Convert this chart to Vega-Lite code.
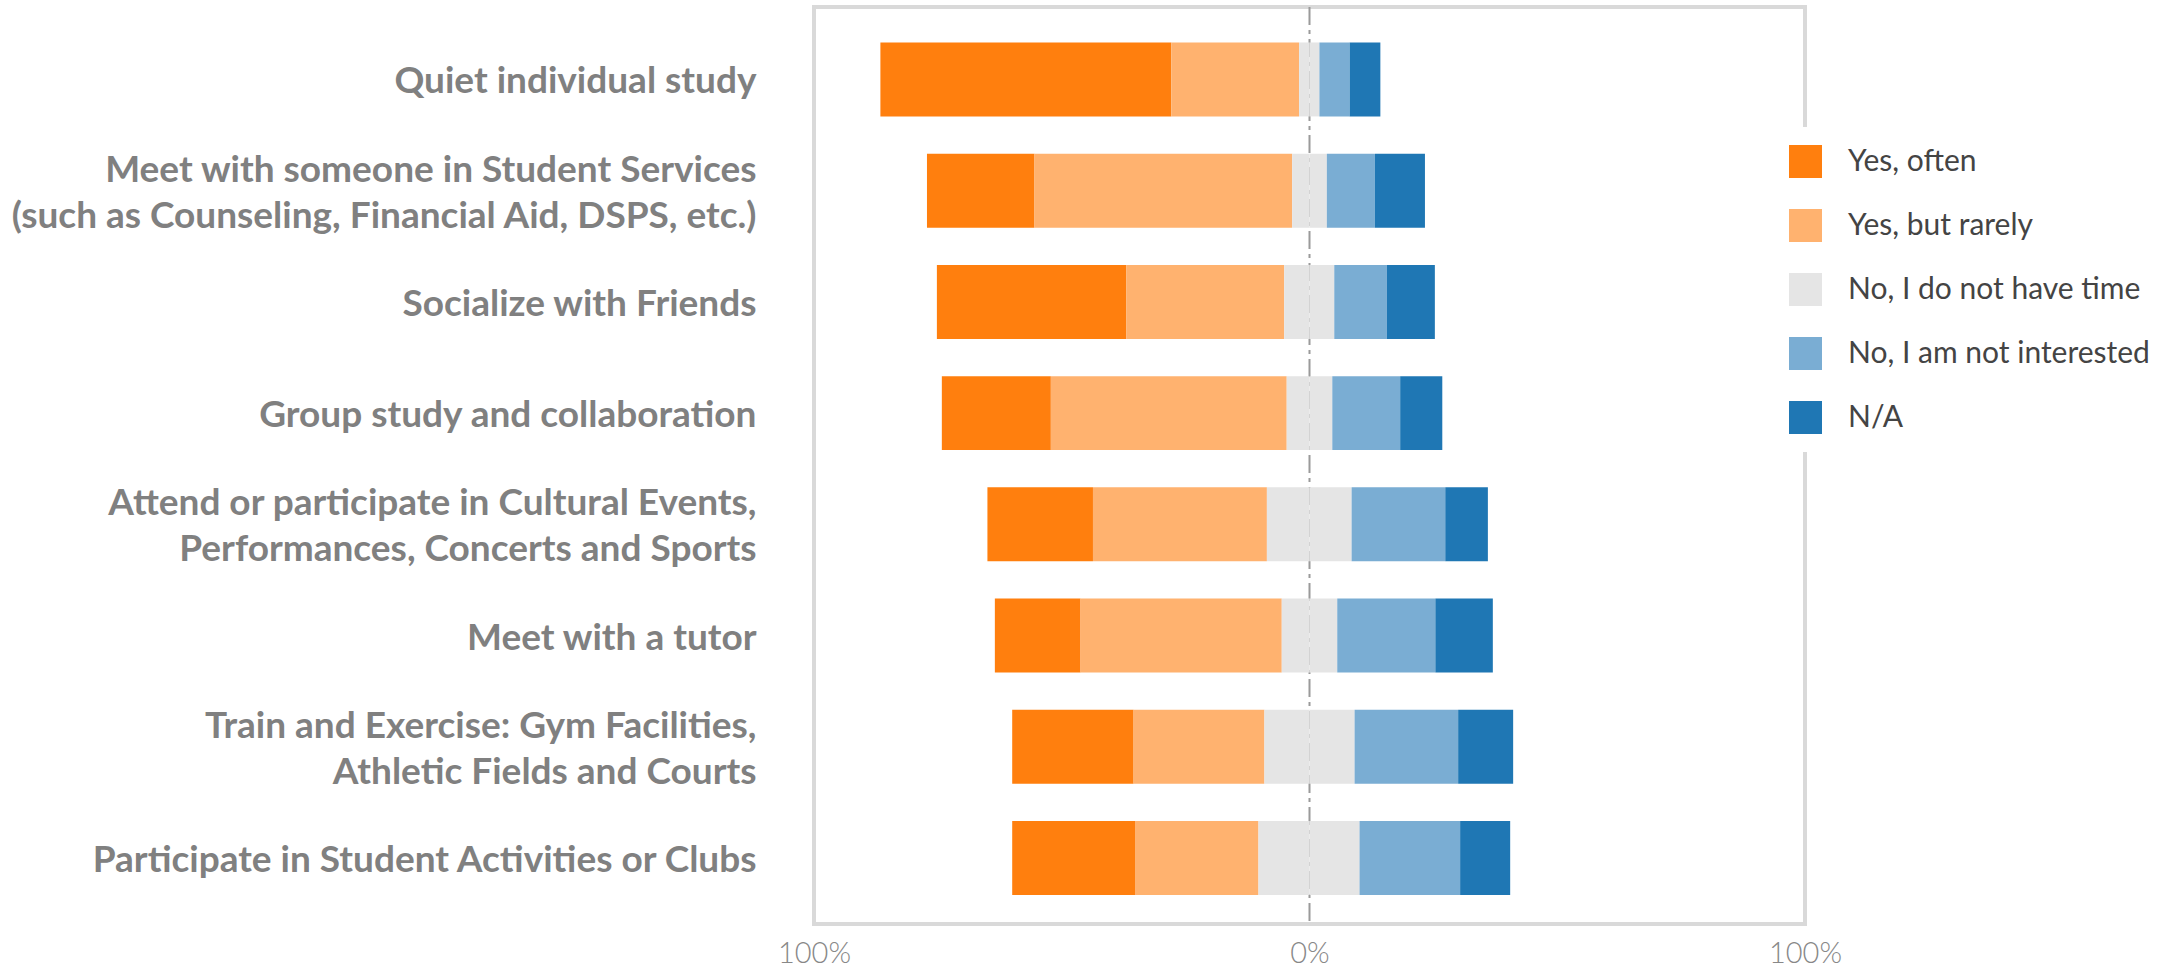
{
  "$schema": "https://vega.github.io/schema/vega-lite/v6.json",
  "width": 991,
  "height": 917,
  "autosize": {"type": "none"},
  "padding": {"left": 814, "top": 7, "right": 375, "bottom": 45},
  "background": "white",
  "config": {"view": {"stroke": "#d9d9d9", "strokeWidth": 4}},
  "layer": [
    {
      "data": {"values": [{"zero": 0}]},
      "mark": {"type": "rule", "color": "#9a9a9a", "strokeWidth": 2, "strokeDash": [18, 5, 4, 5]},
      "encoding": {"x": {"field": "zero", "type": "quantitative"}}
    },
    {
      "data": {"values": [
        {"activity": "Quiet individual study", "response": "Yes, often", "value": -58.7, "rank": 2},
        {"activity": "Quiet individual study", "response": "Yes, but rarely", "value": -25.8, "rank": 1},
        {"activity": "Quiet individual study", "response": "No, I do not have time", "value": -2.1, "rank": 0},
        {"activity": "Quiet individual study", "response": "No, I do not have time", "value": 2.0, "rank": 0},
        {"activity": "Quiet individual study", "response": "No, I am not interested", "value": 6.1, "rank": 3},
        {"activity": "Quiet individual study", "response": "N/A", "value": 6.2, "rank": 4},

        {"activity": "Meet with someone in Student Services\n(such as Counseling, Financial Aid, DSPS, etc.)", "response": "Yes, often", "value": -21.7, "rank": 2},
        {"activity": "Meet with someone in Student Services\n(such as Counseling, Financial Aid, DSPS, etc.)", "response": "Yes, but rarely", "value": -52.0, "rank": 1},
        {"activity": "Meet with someone in Student Services\n(such as Counseling, Financial Aid, DSPS, etc.)", "response": "No, I do not have time", "value": -3.5, "rank": 0},
        {"activity": "Meet with someone in Student Services\n(such as Counseling, Financial Aid, DSPS, etc.)", "response": "No, I do not have time", "value": 3.5, "rank": 0},
        {"activity": "Meet with someone in Student Services\n(such as Counseling, Financial Aid, DSPS, etc.)", "response": "No, I am not interested", "value": 9.7, "rank": 3},
        {"activity": "Meet with someone in Student Services\n(such as Counseling, Financial Aid, DSPS, etc.)", "response": "N/A", "value": 10.1, "rank": 4},

        {"activity": "Socialize with Friends", "response": "Yes, often", "value": -38.2, "rank": 2},
        {"activity": "Socialize with Friends", "response": "Yes, but rarely", "value": -31.9, "rank": 1},
        {"activity": "Socialize with Friends", "response": "No, I do not have time", "value": -5.1, "rank": 0},
        {"activity": "Socialize with Friends", "response": "No, I do not have time", "value": 5.0, "rank": 0},
        {"activity": "Socialize with Friends", "response": "No, I am not interested", "value": 10.6, "rank": 3},
        {"activity": "Socialize with Friends", "response": "N/A", "value": 9.7, "rank": 4},

        {"activity": "Group study and collaboration", "response": "Yes, often", "value": -22.0, "rank": 2},
        {"activity": "Group study and collaboration", "response": "Yes, but rarely", "value": -47.6, "rank": 1},
        {"activity": "Group study and collaboration", "response": "No, I do not have time", "value": -4.6, "rank": 0},
        {"activity": "Group study and collaboration", "response": "No, I do not have time", "value": 4.6, "rank": 0},
        {"activity": "Group study and collaboration", "response": "No, I am not interested", "value": 13.7, "rank": 3},
        {"activity": "Group study and collaboration", "response": "N/A", "value": 8.5, "rank": 4},

        {"activity": "Attend or participate in Cultural Events,\nPerformances, Concerts and Sports", "response": "Yes, often", "value": -21.3, "rank": 2},
        {"activity": "Attend or participate in Cultural Events,\nPerformances, Concerts and Sports", "response": "Yes, but rarely", "value": -35.1, "rank": 1},
        {"activity": "Attend or participate in Cultural Events,\nPerformances, Concerts and Sports", "response": "No, I do not have time", "value": -8.6, "rank": 0},
        {"activity": "Attend or participate in Cultural Events,\nPerformances, Concerts and Sports", "response": "No, I do not have time", "value": 8.5, "rank": 0},
        {"activity": "Attend or participate in Cultural Events,\nPerformances, Concerts and Sports", "response": "No, I am not interested", "value": 18.9, "rank": 3},
        {"activity": "Attend or participate in Cultural Events,\nPerformances, Concerts and Sports", "response": "N/A", "value": 8.6, "rank": 4},

        {"activity": "Meet with a tutor", "response": "Yes, often", "value": -17.3, "rank": 2},
        {"activity": "Meet with a tutor", "response": "Yes, but rarely", "value": -40.6, "rank": 1},
        {"activity": "Meet with a tutor", "response": "No, I do not have time", "value": -5.6, "rank": 0},
        {"activity": "Meet with a tutor", "response": "No, I do not have time", "value": 5.6, "rank": 0},
        {"activity": "Meet with a tutor", "response": "No, I am not interested", "value": 19.8, "rank": 3},
        {"activity": "Meet with a tutor", "response": "N/A", "value": 11.6, "rank": 4},

        {"activity": "Train and Exercise: Gym Facilities,\nAthletic Fields and Courts", "response": "Yes, often", "value": -24.5, "rank": 2},
        {"activity": "Train and Exercise: Gym Facilities,\nAthletic Fields and Courts", "response": "Yes, but rarely", "value": -26.4, "rank": 1},
        {"activity": "Train and Exercise: Gym Facilities,\nAthletic Fields and Courts", "response": "No, I do not have time", "value": -9.1, "rank": 0},
        {"activity": "Train and Exercise: Gym Facilities,\nAthletic Fields and Courts", "response": "No, I do not have time", "value": 9.1, "rank": 0},
        {"activity": "Train and Exercise: Gym Facilities,\nAthletic Fields and Courts", "response": "No, I am not interested", "value": 20.9, "rank": 3},
        {"activity": "Train and Exercise: Gym Facilities,\nAthletic Fields and Courts", "response": "N/A", "value": 11.1, "rank": 4},

        {"activity": "Participate in Student Activities or Clubs", "response": "Yes, often", "value": -24.9, "rank": 2},
        {"activity": "Participate in Student Activities or Clubs", "response": "Yes, but rarely", "value": -24.8, "rank": 1},
        {"activity": "Participate in Student Activities or Clubs", "response": "No, I do not have time", "value": -10.3, "rank": 0},
        {"activity": "Participate in Student Activities or Clubs", "response": "No, I do not have time", "value": 10.1, "rank": 0},
        {"activity": "Participate in Student Activities or Clubs", "response": "No, I am not interested", "value": 20.3, "rank": 3},
        {"activity": "Participate in Student Activities or Clubs", "response": "N/A", "value": 10.1, "rank": 4}
      ]},
      "mark": {"type": "bar"},
      "encoding": {
        "y": {
          "field": "activity", "type": "nominal", "sort": null,
          "scale": {"paddingInner": 0.335, "paddingOuter": 0.29, "align": 0.55},
          "axis": {
            "title": null, "domain": false, "ticks": false,
            "labelFont": "Lato", "labelFontWeight": "bold", "labelFontSize": 37,
            "labelColor": "#808080", "labelPadding": 58, "labelLimit": 900,
            "labelExpr": "split(datum.label, '\\n')", "labelLineHeight": 46,
            "labelOffset": {"condition": {"test": "indexof(datum.value, '\\n') >= 0", "value": -20}, "value": 3}
          }
        },
        "x": {
          "field": "value", "type": "quantitative", "stack": "zero",
          "scale": {"domain": [-100, 100]},
          "axis": {
            "values": [-100, 0, 100], "labelExpr": "abs(datum.value) + '%'",
            "grid": false, "ticks": false, "domain": false, "title": null,
            "labelFont": "Lato", "labelFontWeight": 300, "labelFontSize": 29,
            "labelColor": "#888888", "labelPadding": 15, "labelFlush": false
          }
        },
        "color": {
          "field": "response", "type": "nominal",
          "scale": {
            "domain": ["Yes, often", "Yes, but rarely", "No, I do not have time", "No, I am not interested", "N/A"],
            "range": ["#ff7f0e", "#ffb26f", "#e5e5e5", "#7aadd3", "#1f77b4"]
          },
          "legend": {
            "orient": "none", "direction": "vertical", "legendX": 957, "legendY": 120,
            "title": null, "fillColor": "white", "padding": 18,
            "symbolType": "square", "symbolSize": 1089, "symbolStrokeWidth": 0, "symbolOpacity": 1,
            "labelFont": "Lato", "labelFontSize": 30, "labelColor": "#444444",
            "labelOffset": 26, "rowPadding": 31, "labelLimit": 400
          }
        },
        "order": {"field": "rank", "type": "quantitative"}
      }
    }
  ]
}
